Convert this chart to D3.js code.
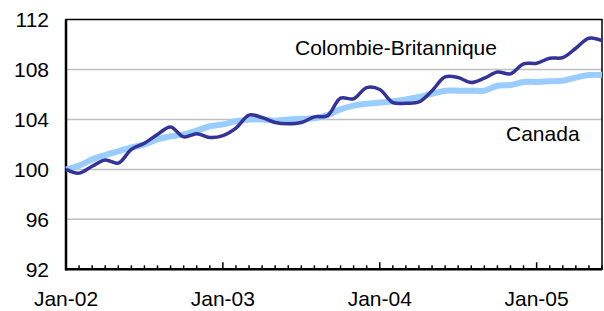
<!DOCTYPE html>
<html>
<head>
<meta charset="utf-8">
<script src="https://cdn.jsdelivr.net/npm/d3@7"></script>
<style>
  body { margin: 0; background: #fff; }
  text { font-family: "Liberation Sans", Arial, sans-serif; fill: #000; }
</style>
</head>
<body>
<svg id="chart" width="604" height="311"></svg>
<script>
// monthly index, Jan-02 = 100
var months = d3.timeMonth.range(new Date(2002, 0, 1), new Date(2005, 6, 1));
var monthLabels = months.map(d3.timeFormat("%b-%y"));

var bcValues = [100.0, 99.7, 100.25, 100.75, 100.5, 101.6, 102.1, 102.8, 103.4, 102.6,
  102.85, 102.55, 102.7, 103.3, 104.35, 104.15, 103.75, 103.65, 103.75, 104.2,
  104.3, 105.7, 105.65, 106.55, 106.4, 105.35, 105.3, 105.4, 106.3, 107.4,
  107.35, 106.95, 107.3, 107.8, 107.65, 108.45, 108.5, 108.9, 108.95, 109.7,
  110.5, 110.3];

var canadaValues = [100.0, 100.3, 100.8, 101.15, 101.45, 101.75, 102.0, 102.4, 102.65, 102.8,
  103.1, 103.45, 103.6, 103.85, 104.0, 104.0, 103.9, 104.0, 104.05, 104.1,
  104.35, 104.8, 105.1, 105.25, 105.35, 105.45, 105.6, 105.8, 106.05, 106.3,
  106.3, 106.3, 106.3, 106.7, 106.75, 107.0, 107.0, 107.05, 107.1, 107.35,
  107.55, 107.55];

var yTicks = [92, 96, 100, 104, 108, 112];
var seriesNames = ["Colombie-Britannique", "Canada"];

var plotLeft = 66, plotRight = 602, plotTop = 19.5, plotBottom = 269.3;

var svg = d3.select("#chart");

var x = d3.scalePoint()
    .domain(monthLabels)
    .range([plotLeft, plotRight]);

var y = d3.scaleLinear()
    .domain([92, 112])
    .range([plotBottom, plotTop]);

// gridlines
svg.append("g")
  .selectAll("line")
    .data(yTicks.slice(1, -1))
  .enter().append("line")
    .attr("x1", plotLeft)
    .attr("x2", plotRight)
    .attr("y1", function(d) { return y(d); })
    .attr("y2", function(d) { return y(d); })
    .style("stroke", "#c0c0c0")
    .style("stroke-width", 1.5);

// plot border
svg.append("rect")
    .attr("x", plotLeft)
    .attr("y", plotTop)
    .attr("width", plotRight - plotLeft)
    .attr("height", plotBottom - plotTop)
    .style("fill", "none")
    .style("stroke", "#000")
    .style("stroke-width", 1.5);

// y labels
svg.append("g")
  .selectAll("text")
    .data(yTicks)
  .enter().append("text")
    .attr("x", 49)
    .attr("y", function(d) { return y(d); })
    .attr("dy", "0.35em")
    .style("text-anchor", "end")
    .style("font-size", "21px")
    .text(function(d) { return d; });

// month ticks (inside), longer on January
var isJan = function(d, i) { return months[i].getMonth() === 0; };

svg.append("g")
  .selectAll("line")
    .data(monthLabels)
  .enter().append("line")
    .attr("x1", function(d) { return x(d); })
    .attr("x2", function(d) { return x(d); })
    .attr("y1", plotBottom)
    .attr("y2", function(d, i) { return isJan(d, i) ? plotBottom - 7 : plotBottom - 4; })
    .style("stroke", "#000")
    .style("stroke-width", 1.5);

svg.append("g")
  .selectAll("text")
    .data(monthLabels.filter(isJan))
  .enter().append("text")
    .attr("x", function(d) { return x(d); })
    .attr("y", 306)
    .style("text-anchor", "middle")
    .style("font-size", "21px")
    .text(function(d) { return d; });

// axis lines
svg.append("line")
    .attr("x1", plotLeft).attr("x2", plotLeft)
    .attr("y1", plotTop).attr("y2", plotBottom + 1)
    .style("stroke", "#000").style("stroke-width", 2.5);
svg.append("line")
    .attr("x1", plotLeft - 1).attr("x2", plotRight)
    .attr("y1", plotBottom).attr("y2", plotBottom)
    .style("stroke", "#000").style("stroke-width", 2.5);

var line = d3.line()
    .x(function(d, i) { return x(monthLabels[i]); })
    .y(function(d) { return y(d); })
    .curve(d3.curveCatmullRom.alpha(0.5));

svg.append("path")
    .datum(canadaValues)
    .attr("d", line)
    .style("fill", "none")
    .style("stroke", "#99ccff")
    .style("stroke-width", 6)
    .style("stroke-linejoin", "round");

svg.append("path")
    .datum(bcValues)
    .attr("d", line)
    .style("fill", "none")
    .style("stroke", "#333399")
    .style("stroke-width", 3.5)
    .style("stroke-linejoin", "round");

// series labels
svg.append("text")
    .attr("x", 295)
    .attr("y", 55)
    .style("font-size", "21px")
    .text(seriesNames[0]);

svg.append("text")
    .attr("x", 506)
    .attr("y", 141)
    .style("font-size", "21px")
    .text(seriesNames[1]);
</script>
</body>
</html>
